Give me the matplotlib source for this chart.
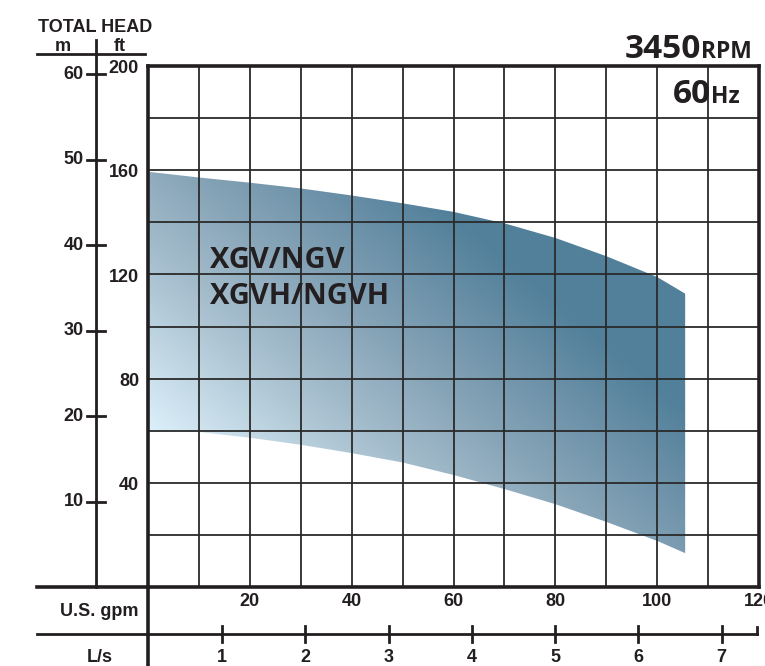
import numpy as np
import matplotlib.pyplot as plt
import matplotlib.transforms as mtransforms
from matplotlib.colors import LinearSegmentedColormap
from matplotlib.patches import Polygon

# pump range (flow in U.S. gpm, head in ft)
flow_gpm = [0, 10, 20, 30, 40, 50, 60, 70, 80, 90, 100, 105.5]
head_max_ft = [159.4, 157.2, 155.2, 153, 150.3, 147.3, 144, 139.6, 134, 127, 119, 112.6]
head_min_ft = [60.2, 59.5, 57.3, 54.6, 51.4, 47.8, 43, 37.6, 31.8, 25, 17.7, 13]

gpm_labels = [20, 40, 60, 80, 100, 120]
ft_labels = [40, 80, 120, 160, 200]
m_labels = [10, 20, 30, 40, 50, 60]
lps_labels = [1, 2, 3, 4, 5, 6, 7]

FT_PER_M = 3.2808
LPS_TO_GPM = 16.35   # L/s scale as printed under the chart
LPS_OFFSET = -1.8

INK = '#231f20'
LBL = dict(family='Liberation Sans', weight='bold', color=INK)
BIG = dict(family='Open Sans', weight='bold', color=INK)

W, H = 765, 666
fig = plt.figure(figsize=(W / 100, H / 100), dpi=100)
L, R, B, T = 148, 759, 587, 66
ax = fig.add_axes([L / W, 1 - B / H, (R - L) / W, (B - T) / H])


def ax_x(px):
    return (px - L) / (R - L)


def ax_y(px):
    return (B - px) / (B - T)


# gradient filled range
cmap = LinearSegmentedColormap.from_list(
    'pump', [(0, '#dcf0fa'), (0.35, '#a9c1d0'), (0.6, '#88a5b8'),
             (0.8, '#6d92a9'), (1, '#52809a')])
xx, yy = np.meshgrid(np.linspace(0, 120, 600), np.linspace(0, 200, 600))
t = np.clip(0.95 * xx / 105 + 0.55 * (yy - 60) / 100, 0, 1)
im = ax.imshow(t, extent=[0, 120, 0, 200], origin='lower', cmap=cmap,
               vmin=0, vmax=1, aspect='auto', zorder=1, interpolation='bilinear')
verts = np.column_stack([flow_gpm + flow_gpm[::-1], head_max_ft + head_min_ft[::-1]])
poly = Polygon(verts, closed=True, facecolor='none', edgecolor='none')
ax.add_patch(poly)
im.set_clip_path(poly)

ax.set_xlim(0, 120)
ax.set_ylim(0, 200)
ax.set_xticks(np.arange(0, 121, 10))
ax.set_yticks(np.arange(0, 201, 20))
ax.tick_params(length=0, labelbottom=False, labelleft=False)
ax.grid(True, color='#2a2a2a', lw=1.3)
for s in ax.spines.values():
    s.set_linewidth(2.6)
    s.set_color(INK)

ax.text(12.2, 122.5, 'XGV/NGV', fontsize=21, va='baseline', ha='left', **BIG)
ax.text(12.2, 108.6, 'XGVH/NGVH', fontsize=21, va='baseline', ha='left', **BIG)

# left scales
ty = mtransforms.blended_transform_factory(ax.transAxes, ax.transData)
for v in ft_labels:
    ax.text(ax_x(139), v - 1, str(v), transform=ty, ha='right', va='center',
            fontsize=13, **LBL)
ax.plot([ax_x(96), ax_x(96)], [ax_y(587), ax_y(40)], transform=ax.transAxes,
        clip_on=False, color=INK, lw=2)
for v in m_labels:
    ax.plot([ax_x(87), ax_x(105)], [v * FT_PER_M] * 2, transform=ty,
            clip_on=False, color=INK, lw=2)
    ax.text(ax_x(84), v * FT_PER_M, str(v), transform=ty, ha='right',
            va='center', fontsize=13, **LBL)
ax.plot([ax_x(37), ax_x(145)], [ax_y(54)] * 2, transform=ax.transAxes,
        clip_on=False, color=INK, lw=2)
fig.text(95.5 / W, 1 - 32 / H, 'TOTAL HEAD', ha='center', va='baseline',
         fontsize=13, **LBL)
fig.text(63 / W, 1 - 51 / H, 'm', ha='center', va='baseline', fontsize=13, **LBL)
fig.text(119.5 / W, 1 - 51 / H, 'ft', ha='center', va='baseline', fontsize=13, **LBL)

# bottom scales
tx = mtransforms.blended_transform_factory(ax.transData, ax.transAxes)
ax.plot([ax_x(37), 0], [0, 0], transform=ax.transAxes, clip_on=False,
        color=INK, lw=2.6)
ax.plot([0, 0], [0, ax_y(666)], transform=ax.transAxes, clip_on=False,
        color=INK, lw=2.6)
for v in gpm_labels:
    ax.text(v, ax_y(602), str(v), transform=tx, ha='center', va='center',
            fontsize=13, **LBL)
fig.text(99 / W, 1 - 611 / H, 'U.S. gpm', ha='center', va='center',
         fontsize=13, **LBL)
ax.plot([ax_x(37), ax_x(757)], [ax_y(634)] * 2, transform=ax.transAxes,
        clip_on=False, color=INK, lw=2)
ax.plot([ax_x(757)] * 2, [ax_y(634), ax_y(627)], transform=ax.transAxes,
        clip_on=False, color=INK, lw=2)
for k in lps_labels:
    g = LPS_OFFSET + k * LPS_TO_GPM
    ax.plot([g, g], [ax_y(642), ax_y(626)], transform=tx, clip_on=False,
            color=INK, lw=2)
    ax.text(g, ax_y(658), str(k), transform=tx, ha='center', va='center',
            fontsize=13, **LBL)
fig.text(100 / W, 1 - 658 / H, 'L/s', ha='center', va='center',
         fontsize=13, **LBL)

# speed / frequency tags
fig.canvas.draw()
rend = fig.canvas.get_renderer()
for big, small, x_right, base in [('3450', 'RPM', 752, 58), ('60', 'Hz', 740, 103)]:
    s = fig.text(x_right / W, 1 - base / H, small, ha='right', va='baseline',
                 fontsize=16.5, **BIG)
    left = s.get_window_extent(rend).x0
    fig.text(left / W, 1 - base / H, big, ha='right', va='baseline',
             fontsize=24, **BIG)

fig.savefig('out.png', dpi=100)
